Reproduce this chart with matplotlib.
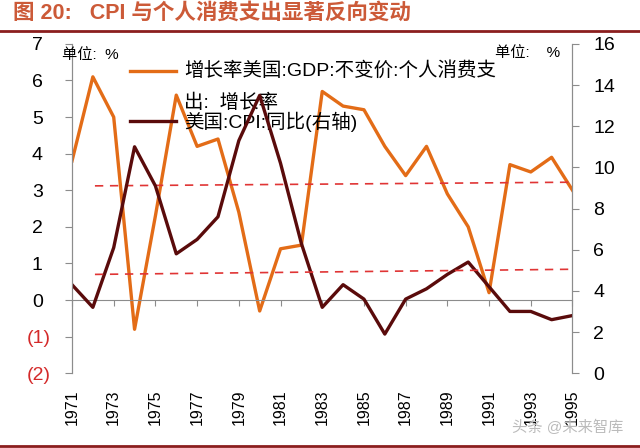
import matplotlib
matplotlib.use("Agg")
import matplotlib.pyplot as plt
import matplotlib.transforms as mtransforms
from matplotlib.lines import Line2D
from matplotlib.legend_handler import HandlerLine2D

plt.rcParams['font.family'] = ['Liberation Sans', 'Noto Sans CJK SC']

years = list(range(1971, 1996))
# 美国 个人消费支出 不变价 增长率 (left axis, %)
pce = [3.8, 6.1, 5.0, -0.8, 2.3, 5.6, 4.2, 4.4, 2.4, -0.3, 1.4, 1.5,
       5.7, 5.3, 5.2, 4.2, 3.4, 4.2, 2.9, 2.0, 0.2, 3.7, 3.5, 3.9, 3.0]
# 美国 CPI 同比 (right axis, %)
cpi = [4.3, 3.2, 6.1, 11.0, 9.1, 5.8, 6.5, 7.6, 11.3, 13.5, 10.2, 6.3,
       3.2, 4.3, 3.6, 1.9, 3.6, 4.1, 4.8, 5.4, 4.2, 3.0, 3.0, 2.6, 2.8]
# dashed reference lines (start, end)
ref_x = [1972.1, 1995]
pce_ref = [3.12, 3.22]
cpi_ref = [4.8, 5.05]

left_ticks = list(range(-2, 8))
left_labels = ['(2)', '(1)', '0', '1', '2', '3', '4', '5', '6', '7']
right_ticks = list(range(0, 17, 2))
xticks = list(range(1971, 1996, 2))

orange = '#E36C17'
maroon = '#5A0B0B'
grey = '#8C8C8C'


class TopLineHandler(HandlerLine2D):
    # put the legend line next to the first row of a two-row label
    def create_artists(self, legend, orig_handle, xdescent, ydescent,
                       width, height, fontsize, trans):
        arts = super().create_artists(legend, orig_handle, xdescent, ydescent,
                                      width, height, fontsize, trans)
        for a in arts:
            a.set_transform(mtransforms.Affine2D().translate(0, 11) + trans)
        return arts


fig = plt.figure(figsize=(6.4, 4.48), dpi=100)
ax = fig.add_axes([0.1125, 0.167, 0.782, 0.735])
ax2 = ax.twinx()

l1, = ax.plot(years, pce, color=orange, lw=2.4)
l2, = ax2.plot(years, cpi, color=maroon, lw=2.4)
ax.plot(ref_x, pce_ref, color='#E03535', lw=1.2, ls=(0, (5, 4)))
ax2.plot(ref_x, cpi_ref, color='#E03535', lw=1.2, ls=(0, (5, 4)))

ax.set_xlim(1971, 1995)
ax.set_ylim(-2, 7)
ax2.set_ylim(0, 16)

for a in (ax, ax2):
    a.spines['top'].set_visible(False)
    a.spines['left'].set_color(grey)
    a.spines['right'].set_color(grey)
    a.spines['bottom'].set_visible(False)
ax.tick_params(axis='y', direction='out', length=5, color=grey, labelsize=14, pad=16)
ax2.tick_params(axis='y', direction='out', length=5, color=grey, labelsize=14, pad=10)

ax.set_yticks(left_ticks)
ax.set_yticklabels(left_labels)
ax2.set_yticks(right_ticks)
# negative labels in brackets stick out to the right, like Excel's 0;(0) format
shift = mtransforms.ScaledTranslation(0.08, 0, fig.dpi_scale_trans)
for t, v in zip(ax.get_yticklabels(), left_ticks):
    if v < 0:
        t.set_color('#D42A2A')
        t.set_transform(t.get_transform() + shift)

# x axis crosses at 0 on the left scale
ax.spines['bottom'].set_visible(True)
ax.spines['bottom'].set_position(('data', 0))
ax.spines['bottom'].set_color(grey)
ax.set_xticks(xticks)
ax.tick_params(axis='x', direction='out', length=4, color=grey, labelbottom=False)

sec = ax.secondary_xaxis(0)
sec.set_xticks(xticks)
sec.set_xticklabels([str(y) for y in xticks], rotation=90, fontsize=11.5)
sec.tick_params(length=0, pad=12)
sec.spines['bottom'].set_visible(False)

leg = ax.legend([l1, l2], ['增长率美国:GDP:不变价:个人消费支\n出:  增长率', '美国:CPI:同比(右轴)'],
                handler_map={l1: TopLineHandler()},
                loc='upper left', bbox_to_anchor=(0.1, 0.97), frameon=False,
                fontsize=14, handlelength=2.4, handletextpad=0.4, labelspacing=0.0,
                borderaxespad=0)
leg.get_texts()[0].set_linespacing(1.9)

fig.text(0.097, 0.868, '单位:  %', fontsize=11)
fig.text(0.774, 0.872, '单位:    %', fontsize=11)

fig.text(0.02, 0.948, '图 20:   CPI 与个人消费支出显著反向变动', fontsize=15.5,
         fontweight='bold', color='#CC5A38', va='bottom')
fig.add_artist(Line2D([0, 1], [0.93, 0.93], color='#8B1E1E', lw=2))
fig.add_artist(Line2D([0, 1], [0.005, 0.005], color='#8B1E1E', lw=2))
fig.text(0.80, 0.035, '头条 @未来智库', fontsize=11, color='#BBBBBB')

fig.savefig('out.png', dpi=100)
